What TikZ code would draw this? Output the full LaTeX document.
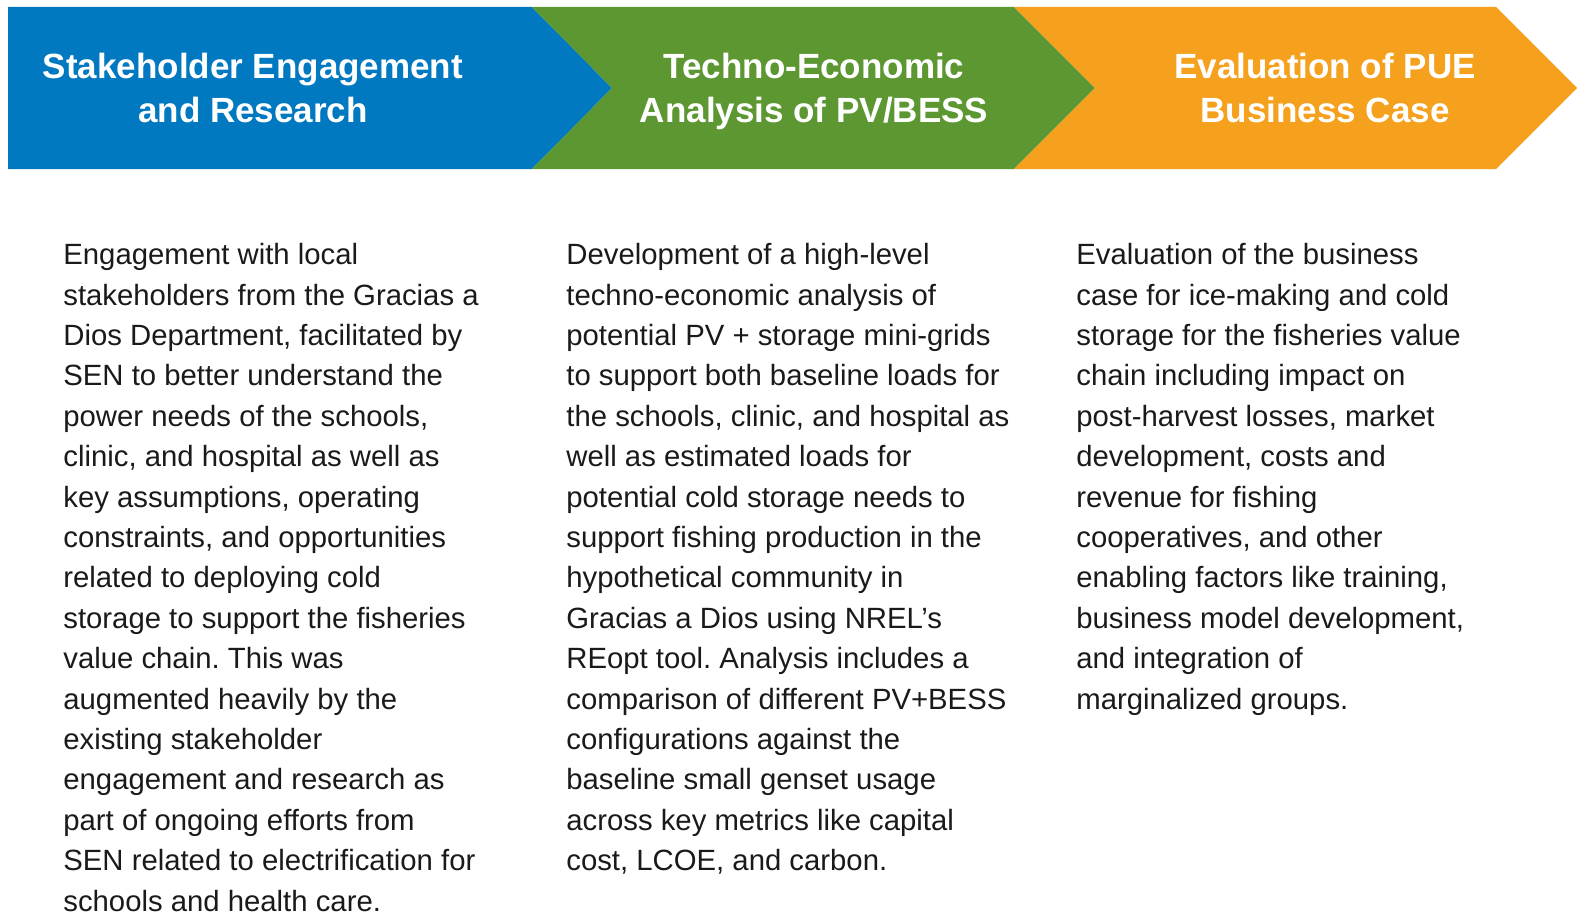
\documentclass[tikz,border=0pt]{standalone}
\usepackage{fontspec}
\setmainfont{Liberation Sans}

\definecolor{stageblue}{HTML}{0079C1}
\definecolor{stagegreen}{HTML}{5D9732}
\definecolor{stageorange}{HTML}{F5A11E}
\definecolor{bodytext}{HTML}{1A1A1A}

\begin{document}
\frenchspacing
\begin{tikzpicture}[x=0.5pt, y=-0.5pt,
        heading/.style={text=white, align=center, inner sep=0pt, text depth=0pt,
            font=\bfseries\fontsize{17.5}{22}\selectfont},
        body/.style={anchor=north west, inner sep=0pt, align=left, text=bodytext,
            font=\fontsize{14.65}{20.2}\selectfont}]
        \useasboundingbox (0,0) rectangle (1579,915);
        \fill[white] (0,0) rectangle (1579,915);

        % the three stages
        \fill[stageblue] (8,7) -- (532,7) -- (612,88) -- (532,169) -- (8,169) -- cycle;
        \fill[stagegreen] (532,7) -- (1014,7) -- (1095,88) -- (1014,169) -- (532,169) -- (612,88) -- cycle;
        \fill[stageorange] (1014,7) -- (1496,7) -- (1577,88) -- (1496,169) -- (1014,169) -- (1095,88) -- cycle;

        \node[heading] (engage) at (253,88) {Stakeholder Engagement\\and Research};
        \node[heading] (techno) at (814,88) {Techno-Economic\\Analysis of PV/BESS};
        \node[heading] (pue) at (1325,88) {Evaluation of PUE\\Business Case};

        % descriptions under each stage
        \node[body] (engagetxt) at (63,243) {Engagement with local\\
            stakeholders from the Gracias a\\
            Dios Department, facilitated by\\
            SEN to better understand the\\
            power needs of the schools,\\
            clinic, and hospital as well as\\
            key assumptions, operating\\
            constraints, and opportunities\\
            related to deploying cold\\
            storage to support the fisheries\\
            value chain. This was\\
            augmented heavily by the\\
            existing stakeholder\\
            engagement and research as\\
            part of ongoing efforts from\\
            SEN related to electrification for\\
            schools and health care.};

        \node[body] (technotxt) at (566,243) {Development of a high-level\\
            techno-economic analysis of\\
            potential PV + storage mini-grids\\
            to support both baseline loads for\\
            the schools, clinic, and hospital as\\
            well as estimated loads for\\
            potential cold storage needs to\\
            support fishing production in the\\
            hypothetical community in\\
            Gracias a Dios using NREL's\\
            REopt tool. Analysis includes a\\
            comparison of different PV+BESS\\
            configurations against the\\
            baseline small genset usage\\
            across key metrics like capital\\
            cost, LCOE, and carbon.};

        \node[body] (puetxt) at (1076,243) {Evaluation of the business\\
            case for ice-making and cold\\
            storage for the fisheries value\\
            chain including impact on\\
            post-harvest losses, market\\
            development, costs and\\
            revenue for fishing\\
            cooperatives, and other\\
            enabling factors like training,\\
            business model development,\\
            and integration of\\
            marginalized groups.};
    \end{tikzpicture}
\end{document}
